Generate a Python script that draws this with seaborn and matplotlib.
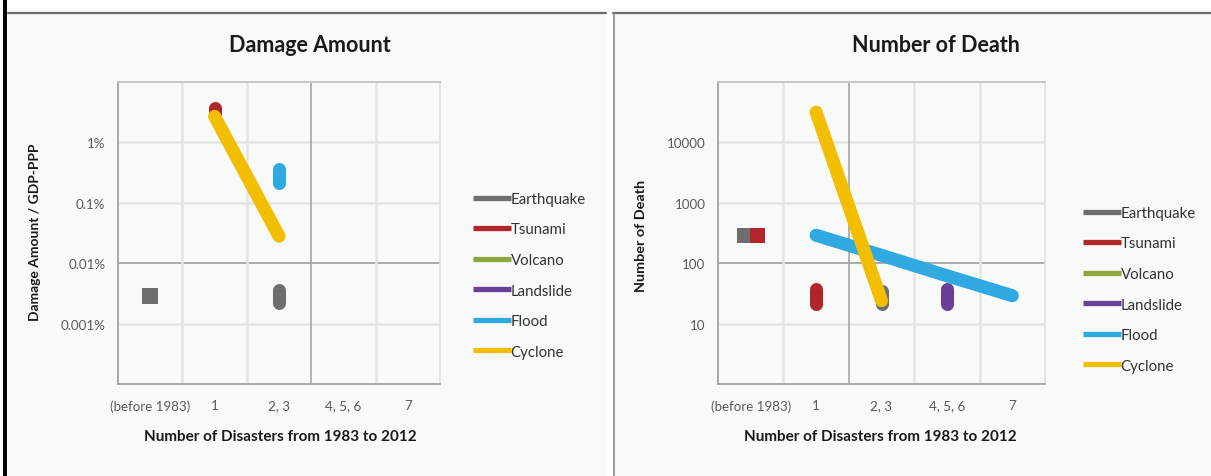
import matplotlib
matplotlib.use("Agg")
import numpy as np
import pandas as pd
import matplotlib.pyplot as plt
import seaborn as sns
from matplotlib.patches import Rectangle
from matplotlib.lines import Line2D

# ---------------------------------------------------------------- data
categories = ["(before 1983)", "1", "2, 3", "4, 5, 6", "7"]
series_names = ["Earthquake", "Tsunami", "Volcano", "Landslide", "Flood", "Cyclone"]
series_colors = ["#6e6e6e", "#b0262b", "#8ea73d", "#6a3f98", "#2fa9df", "#f3bd00"]

# Damage amount / GDP-PPP (percent); lines are (category, value) pairs
damage_earthquake_before = [0.0029]
damage_earthquake_cat = ["2, 3", "2, 3"]
damage_earthquake = [0.0036, 0.0022]
damage_tsunami_cat = ["1", "1"]
damage_tsunami = [3.7, 3.0]
damage_flood_cat = ["2, 3", "2, 3"]
damage_flood = [0.36, 0.21]
damage_cyclone_cat = ["1", "2, 3"]
damage_cyclone = [2.7, 0.028]

# Number of deaths
death_earthquake_before = [290]
death_tsunami_before = [290]
death_earthquake_cat = ["2, 3", "2, 3"]
death_earthquake = [35, 21]
death_tsunami_cat = ["1", "1"]
death_tsunami = [37, 21]
death_landslide_cat = ["4, 5, 6", "4, 5, 6"]
death_landslide = [37, 21]
death_flood_cat = ["1", "2, 3", "4, 5, 6", "7"]
death_flood = [290, 135, 62, 29]
death_cyclone_cat = ["1", "2, 3"]
death_cyclone = [31600, 24]

damage_ticks = [1e-3, 1e-2, 1e-1, 1]
damage_tick_labels = ["0.001%", "0.01%", "0.1%", "1%"]
death_ticks = [10, 100, 1000, 10000]
death_tick_labels = ["10", "100", "1000", "10000"]

# ---------------------------------------------------------------- style
sns.set_style("white")
plt.rcParams["font.family"] = ["Lato", "DejaVu Sans"]

W, H = 1211, 477
fig = plt.figure(figsize=(W / 100, H / 100), dpi=100)
fig.patch.set_facecolor("white")

PANEL_BG = "#f8f9f9"
TEXT_DARK = "#1a1a1a"
palette = dict(zip(series_names, series_colors))
cat_pos = {c: i for i, c in enumerate(categories)}


def fx(px):
    return px / W


def fy(py):
    return 1 - py / H


# panel backgrounds and frames
fig.add_artist(Rectangle((fx(8), 0), fx(598), fy(14), transform=fig.transFigure,
                         facecolor=PANEL_BG, edgecolor="none", zorder=0))
fig.add_artist(Rectangle((fx(613), 0), fx(598), fy(14), transform=fig.transFigure,
                         facecolor=PANEL_BG, edgecolor="none", zorder=0))
fig.add_artist(Line2D([fx(8), fx(606)], [fy(14), fy(14)], transform=fig.transFigure,
                      color="#6a6a6a", lw=1.6))
fig.add_artist(Line2D([fx(613), fx(1211)], [fy(14), fy(14)], transform=fig.transFigure,
                      color="#6a6a6a", lw=1.6))
fig.add_artist(Line2D([fx(613.5), fx(613.5)], [0, fy(14)], transform=fig.transFigure,
                      color="#8a8a8a", lw=1.2))
fig.add_artist(Rectangle((fx(3), 0), fx(4), 1, transform=fig.transFigure,
                         facecolor="black", edgecolor="none"))


def series_frame(entries):
    rows = []
    for seg, (name, cats, vals) in enumerate(entries):
        for c, v in zip(cats, vals):
            rows.append({"series": name, "seg": seg, "x": cat_pos[c], "value": v})
    return pd.DataFrame(rows)


def draw_panel(ax, lines_df, squares_df, ylim, ticks, tick_labels,
               dark_h, dark_v):
    ax.set_facecolor(PANEL_BG)
    ax.set_yscale("log")
    ax.set_xlim(-0.5, len(categories) - 0.5)
    ax.set_ylim(*ylim)

    # grid
    lo, hi = np.log10(ylim[0]), np.log10(ylim[1])
    for e in range(int(np.ceil(lo)) + 1, int(np.floor(hi)) + 1):
        v = 10.0 ** e
        if np.isclose(v, dark_h):
            ax.axhline(v, color="#a5a5a5", lw=1.3, zorder=1)
        elif e < hi - 0.05:
            ax.axhline(v, color="#e4e4e4", lw=1.8, zorder=1)
    for b in np.arange(0.5, len(categories) - 0.5, 1.0):
        if np.isclose(b, dark_v):
            ax.axvline(b, color="#a5a5a5", lw=1.2, zorder=1)
        else:
            ax.axvline(b, color="#e4e4e4", lw=1.8, zorder=1)

    sns.lineplot(data=lines_df, x="x", y="value", hue="series", units="seg",
                 estimator=None, sort=False, hue_order=series_names,
                 palette=palette, linewidth=9.4, solid_capstyle="round",
                 legend=False, ax=ax, zorder=3)
    sns.scatterplot(data=squares_df, x="x", y="value", hue="series",
                    hue_order=series_names, palette=palette, marker="s", s=120,
                    linewidth=0, legend=False, ax=ax, zorder=3)

    ax.set_xticks(range(len(categories)), categories)
    ax.set_yticks(ticks, tick_labels)
    ax.minorticks_off()
    ax.yaxis.set_minor_locator(matplotlib.ticker.NullLocator())
    ax.tick_params(axis="both", length=0, labelsize=9.6, labelcolor="#5a5a5a")
    ax.tick_params(axis="y", pad=9)
    ax.tick_params(axis="x", pad=11)
    ax.set_xlabel("")
    ax.set_ylabel("")
    for side, col, lw in [("left", "#9c9c9c", 1.2), ("bottom", "#9c9c9c", 1.2),
                          ("top", "#c6c6c6", 1.4), ("right", "#e0e0e0", 1.2)]:
        ax.spines[side].set_visible(True)
        ax.spines[side].set_color(col)
        ax.spines[side].set_linewidth(lw)


def add_legend(x_px, y_px):
    handles = [Line2D([], [], color=c, lw=3.8, solid_capstyle="butt")
               for c in series_colors]
    fig.legend(handles, series_names, loc="upper left",
               bbox_to_anchor=(fx(x_px), fy(y_px)), frameon=False,
               fontsize=10.8, handlelength=2.5, handletextpad=0.0,
               labelspacing=1.1, borderpad=0, borderaxespad=0,
               labelcolor="#333333")


# ---------------------------------------------------------------- left: damage
ax1 = fig.add_axes([fx(118), fy(385), fx(322), (385 - 83) / H])
dmg_lines = series_frame([
    ("Earthquake", damage_earthquake_cat, damage_earthquake),
    ("Tsunami", damage_tsunami_cat, damage_tsunami),
    ("Flood", damage_flood_cat, damage_flood),
    ("Cyclone", damage_cyclone_cat, damage_cyclone),
])
dmg_squares = pd.DataFrame({"series": ["Earthquake"], "x": [0.0],
                            "value": damage_earthquake_before})
draw_panel(ax1, dmg_lines, dmg_squares, (1e-4, 10), damage_ticks,
           damage_tick_labels, dark_h=1e-2, dark_v=2.5)
add_legend(473, 193)

fig.text(fx(310), fy(45), "Damage Amount", ha="center", va="center",
         fontsize=15.5, fontweight="bold", color=TEXT_DARK)
fig.text(fx(35), fy(232), "Damage Amount / GDP-PPP", ha="center", va="center",
         rotation=90, fontsize=10, fontweight="bold", color=TEXT_DARK)
fig.text(fx(280), fy(437), "Number of Disasters from 1983 to 2012", ha="center",
         va="center", fontsize=11, fontweight="bold", color=TEXT_DARK)

# ---------------------------------------------------------------- right: deaths
ax2 = fig.add_axes([fx(718), fy(385), fx(327), (385 - 83) / H])
death_lines = series_frame([
    ("Earthquake", death_earthquake_cat, death_earthquake),
    ("Tsunami", death_tsunami_cat, death_tsunami),
    ("Landslide", death_landslide_cat, death_landslide),
    ("Flood", death_flood_cat, death_flood),
    ("Cyclone", death_cyclone_cat, death_cyclone),
])
dodge = 0.1
death_squares = pd.DataFrame({"series": ["Earthquake", "Tsunami"],
                              "x": [-dodge, dodge],
                              "value": death_earthquake_before + death_tsunami_before})
draw_panel(ax2, death_lines, death_squares, (1, 1e5), death_ticks,
           death_tick_labels, dark_h=100, dark_v=1.5)
add_legend(1083, 207)

fig.text(fx(936), fy(45), "Number of Death", ha="center", va="center",
         fontsize=15.5, fontweight="bold", color=TEXT_DARK)
fig.text(fx(641), fy(236), "Number of Death", ha="center", va="center",
         rotation=90, fontsize=10.4, fontweight="bold", color=TEXT_DARK)
fig.text(fx(880), fy(437), "Number of Disasters from 1983 to 2012", ha="center",
         va="center", fontsize=11, fontweight="bold", color=TEXT_DARK)

fig.savefig("out.png", dpi=100, facecolor="white")
